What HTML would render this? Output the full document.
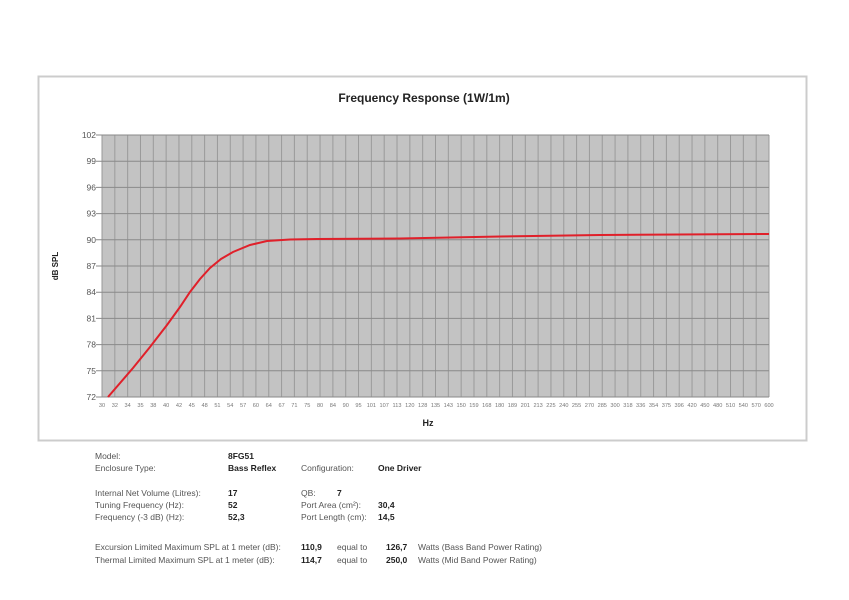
<!DOCTYPE html>
<html><head><meta charset="utf-8"><style>
body{margin:0;background:#fff;width:849px;height:600px;overflow:hidden;font-family:"Liberation Sans",sans-serif}
svg{position:absolute;left:0;top:0}
.t{font-size:8.5px;fill:#555}
.b{font-size:8.5px;fill:#222;font-weight:bold}
</style></head><body>
<svg width="849" height="600" xmlns="http://www.w3.org/2000/svg">
<rect x="38.5" y="76.5" width="768" height="364" fill="#fff" stroke="#ccc" stroke-width="2"/>
<text x="424" y="102" text-anchor="middle" font-size="12" font-weight="bold" fill="#222">Frequency Response (1W/1m)</text>
<rect x="102" y="135" width="667" height="262" fill="#c3c3c3"/>
<g id="v" stroke="#9a9a9a" stroke-width="1"></g>
<g id="h" stroke="#8a8a8a" stroke-width="1"></g>
<g id="yl" font-size="8.5" fill="#555" text-anchor="end"></g>
<g id="xl" font-size="5.6" fill="#777" text-anchor="middle"></g>
<path d="M108,397 L133,368 L150,347 L167,325 L180,307 L190,292 L200,279 L210,268 L221,259 L233,252 L250,245 L267,241 L290,239.5 L317,239 L400,238.5 L500,236.5 L600,235 L769,234" fill="none" stroke="#e0202a" stroke-width="2"/>
<text x="58" y="266" font-size="8" font-weight="bold" fill="#222" transform="rotate(-90 58 266)" text-anchor="middle">dB SPL</text>
<text x="428" y="426" font-size="9" font-weight="bold" fill="#222" text-anchor="middle">Hz</text>
<text class="t" x="95" y="459">Model:</text><text class="b" x="228" y="459">8FG51</text>
<text class="t" x="95" y="471">Enclosure Type:</text><text class="b" x="228" y="471">Bass Reflex</text>
<text class="t" x="301" y="471">Configuration:</text><text class="b" x="378" y="471">One Driver</text>
<text class="t" x="95" y="496">Internal  Net Volume (Litres):</text><text class="b" x="228" y="496" font-size="10">17</text>
<text class="t" x="301" y="496">QB:</text><text class="b" x="337" y="496" font-size="10">7</text>
<text class="t" x="95" y="508">Tuning Frequency (Hz):</text><text class="b" x="228" y="508" font-size="10">52</text>
<text class="t" x="301" y="508">Port Area (cm²):</text><text class="b" x="378" y="508" font-size="10">30,4</text>
<text class="t" x="95" y="520">Frequency (-3 dB) (Hz):</text><text class="b" x="228" y="520" font-size="10">52,3</text>
<text class="t" x="301" y="520">Port Length (cm):</text><text class="b" x="378" y="520" font-size="10">14,5</text>
<text class="t" x="95" y="550">Excursion Limited Maximum SPL at 1 meter (dB):</text><text class="b" x="301" y="550" font-size="10">110,9</text>
<text class="t" x="337" y="550">equal to</text><text class="b" x="386" y="550" font-size="10">126,7</text>
<text class="t" x="418" y="550">Watts (Bass Band Power Rating)</text>
<text class="t" x="95" y="563">Thermal Limited Maximum SPL at 1 meter (dB):</text><text class="b" x="301" y="563" font-size="10">114,7</text>
<text class="t" x="337" y="563">equal to</text><text class="b" x="386" y="563" font-size="10">250,0</text>
<text class="t" x="418" y="563">Watts (Mid Band Power Rating)</text>
</svg>
<script>
var ns="http://www.w3.org/2000/svg";
function el(p,t,a,tx){var e=document.createElementNS(ns,t);for(var k in a)e.setAttribute(k,a[k]);if(tx!=null)e.textContent=tx;document.getElementById(p).appendChild(e);}
var L=[30,32,34,35,38,40,42,45,48,51,54,57,60,64,67,71,75,80,84,90,95,101,107,113,120,128,135,143,150,159,168,180,189,201,213,225,240,255,270,285,300,318,336,354,375,396,420,450,480,510,540,570,600];
var w=667/52;
for(var i=0;i<L.length;i++){var x=102+i*w;el("v","line",{x1:x,x2:x,y1:135,y2:397});el("xl","text",{x:x,y:407},L[i]);}
for(var j=0;j<=10;j++){var y=135+j*26.2;el("h","line",{x1:96,x2:769,y1:y,y2:y});el("yl","text",{x:96,y:y+3},102-3*j);}
</script>
</body></html>
